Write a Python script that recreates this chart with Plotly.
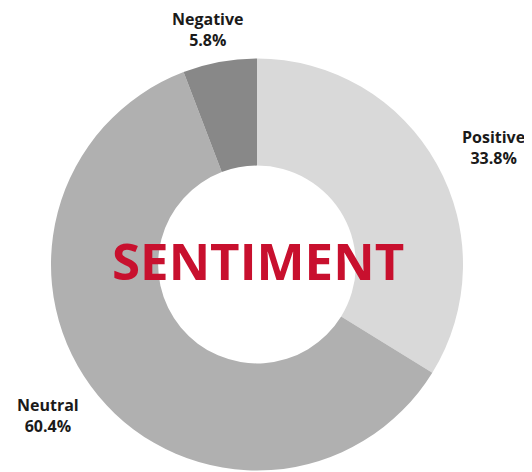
import math
import plotly.graph_objects as go

labels = ["Positive", "Neutral", "Negative"]
values = [33.8, 60.4, 5.8]
colors = ["#d9d9d9", "#b0b0b0", "#888888"]
center_text = "SENTIMENT"

# figure size and pie placement (pixels; page body adds an 8px offset)
W, H = 532, 472
CX, CY = 249, 256.5        # pie centre, from figure top-left
R = 206                    # outer radius
LRX, LRY = 271, 238        # label ellipse radii
LDY = -1                   # label vertical nudge
TX, TY = 250, 252          # centre title position

fig = go.Figure(go.Pie(
    labels=labels,
    values=values,
    hole=0.48,
    sort=False,
    direction="clockwise",
    rotation=0,
    marker=dict(colors=colors, line=dict(width=0)),
    textinfo="none",
    showlegend=False,
    domain=dict(x=[(CX - R) / W, (CX + R) / W],
                y=[(H - CY - R) / H, (H - CY + R) / H]),
    hoverinfo="label+percent",
))

total = sum(values)
cum = 0.0
for lab, v in zip(labels, values):
    theta = 2 * math.pi * (cum + v / 2) / total
    cum += v
    px = CX + math.sin(theta) * LRX
    py = CY - math.cos(theta) * LRY + LDY
    fig.add_annotation(
        x=px / W, y=1 - py / H, xref="paper", yref="paper",
        xanchor="center", yanchor="middle", showarrow=False,
        text=f"<b>{lab}</b><br><b>{v:.1f}%</b>",
        font=dict(family="Open Sans", size=16, color="#1a1a1a"),
    )

fig.add_annotation(
    x=TX / W, y=1 - TY / H, xref="paper", yref="paper",
    text="<b>" + center_text + "</b>", showarrow=False,
    font=dict(family="Open Sans", size=51, color="#c8102e"),
)

fig.update_layout(
    width=W, height=H,
    margin=dict(l=0, r=0, t=0, b=0),
    paper_bgcolor="white", plot_bgcolor="white",
)

fig.write_html("out.html")
